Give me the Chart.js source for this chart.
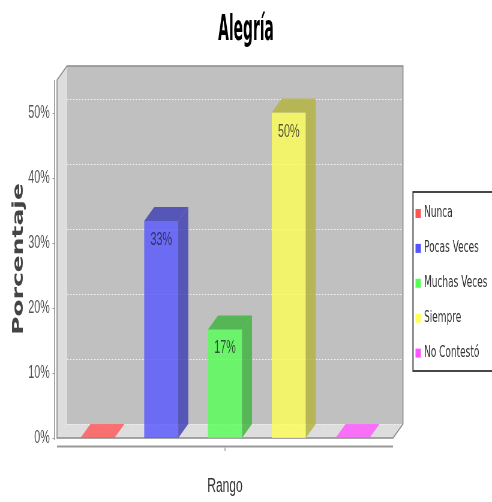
<!DOCTYPE html>
<html><head><meta charset="utf-8">
<script src="https://cdn.jsdelivr.net/npm/chart.js@4.4.1/dist/chart.umd.min.js"></script>
<style>html,body{margin:0;padding:0;background:#fff;overflow:hidden}canvas{display:block}</style>
</head><body>
<canvas id="c" width="820" height="502" style="width:492px;height:502px"></canvas>
<script>
const chartTitle = 'Alegría';
const xTitle = 'Rango';
const yTitle = 'Porcentaje';
const categories = [''];
const seriesNames = ['Nunca', 'Pocas Veces', 'Muchas Veces', 'Siempre', 'No Contestó'];
const seriesValues = [0, 33.33, 16.67, 50, 0];
const seriesColors = ['#FF5555', '#5555FF', '#55FF55', '#FFFF55', '#FF55FF'];
const yTicks = [0, 10, 20, 30, 40, 50];
const yMax = 55;

// canvas is drawn wide and shown horizontally compressed (like the reference)
const SX = 0.6;
const DX = 10 / SX, DY = -14;

function rgb(hex) { return [1,3,5].map(i => parseInt(hex.substr(i,2),16)); }
function rgba(hex, a, k) { const c = rgb(hex).map(v => Math.round(v * (k || 1))); return `rgba(${c[0]},${c[1]},${c[2]},${a})`; }
function poly(ctx, pts, fill) { ctx.beginPath(); pts.forEach((p,i)=> i ? ctx.lineTo(p[0],p[1]) : ctx.moveTo(p[0],p[1])); ctx.closePath(); ctx.fillStyle = fill; ctx.fill(); }

const threeD = {
  id: 'threeD',
  beforeDatasetsDraw(chart) {
    const {ctx, chartArea: a} = chart;
    const L=a.left, R=a.right, T=a.top, B=a.bottom;
    ctx.save();
    ctx.fillStyle = '#C0C0C0';
    ctx.fillRect(L+DX, T+DY, R-L, B-T);
    poly(ctx, [[L,T],[L+DX,T+DY],[L+DX,B+DY],[L,B]], '#DDDDDD');
    poly(ctx, [[L,B],[L+DX,B+DY],[R+DX,B+DY],[R,B]], '#DDDDDD');
    const ys = chart.scales.y;
    ctx.strokeStyle = '#F2F2F2'; ctx.lineWidth = 1; ctx.setLineDash([2.5, 2.5]);
    yTicks.forEach(v => {
      const py = Math.round(ys.getPixelForValue(v) + DY) + 0.5;
      ctx.beginPath(); ctx.moveTo(L+DX, py); ctx.lineTo(R+DX, py); ctx.stroke();
    });
    ctx.setLineDash([]);
    ctx.strokeStyle = '#8A8A8A'; ctx.lineWidth = 1.6;
    ctx.beginPath();
    ctx.moveTo(L, B); ctx.lineTo(L, T); ctx.lineTo(L+DX, T+DY); ctx.lineTo(R+DX, T+DY);
    ctx.lineTo(R+DX, B+DY); ctx.lineTo(R, B); ctx.closePath(); ctx.stroke();
    ctx.restore();
  },
  afterDatasetsDraw(chart) {
    const ctx = chart.ctx;
    ctx.save();
    chart.data.datasets.forEach((ds, i) => {
      const el = chart.getDatasetMeta(i).data[0];
      const {x, y, base, width} = el.getProps(['x','y','base','width'], true);
      const l = x - width/2, r = x + width/2;
      const v = seriesValues[i];
      if (v > 0) {
        poly(ctx, [[r,y],[r+DX,y+DY],[r+DX,base+DY],[r,base]], rgba(seriesColors[i], 0.8, 0.7));
        poly(ctx, [[l,y],[l+DX,y+DY],[r+DX,y+DY],[r,y]], rgba(seriesColors[i], 0.8, 0.7));
        ctx.fillStyle = 'rgba(30,30,40,0.75)';
        ctx.font = '18px "Liberation Sans", Arial, sans-serif';
        ctx.textAlign = 'center'; ctx.textBaseline = 'middle';
        ctx.fillText(Math.round(v) + '%', x, y + 19);
      } else {
        poly(ctx, [[l,y],[l+DX,y+DY],[r+DX,y+DY],[r,y]], rgba(seriesColors[i], 0.8));
      }
    });
    ctx.restore();
  },
  afterDraw(chart) {
    const {ctx, chartArea: a} = chart;
    const L=a.left, R=a.right, T=a.top, B=a.bottom;
    const ys = chart.scales.y, xs = chart.scales.x;
    ctx.save();
    // chart title (condensed)
    ctx.save();
    ctx.translate(chart.width / 2, 40);
    ctx.scale(0.66, 1);
    ctx.font = 'bold 35px "DejaVu Sans", sans-serif';
    ctx.fillStyle = '#000'; ctx.textAlign = 'center'; ctx.textBaseline = 'alphabetic';
    ctx.fillText(chartTitle, 0, 0);
    ctx.restore();
    // value axis line + tick marks
    const ax = L - 2.5/SX;
    ctx.strokeStyle = '#999'; ctx.lineWidth = 1.6;
    ctx.beginPath(); ctx.moveTo(ax, T); ctx.lineTo(ax, B + 2); ctx.stroke();
    ctx.lineWidth = 1;
    yTicks.forEach(v => {
      const py = Math.round(ys.getPixelForValue(v)) + 0.5;
      ctx.beginPath(); ctx.moveTo(ax - 2/SX, py); ctx.lineTo(ax, py); ctx.stroke();
    });
    // category axis line + tick
    ctx.strokeStyle = '#999'; ctx.lineWidth = 2.2;
    ctx.beginPath(); ctx.moveTo(L, B + 8.5); ctx.lineTo(R, B + 8.5); ctx.stroke();
    ctx.lineWidth = 1.5;
    const cx = xs.getPixelForValue(0);
    ctx.beginPath(); ctx.moveTo(cx, B + 9.5); ctx.lineTo(cx, B + 13); ctx.stroke();
    // legend
    const lx = 413/SX, ly = 192, lw = 200, lh = 179;
    ctx.fillStyle = '#fff'; ctx.fillRect(lx, ly, lw, lh);
    ctx.strokeStyle = '#333'; ctx.lineWidth = 1.8;
    ctx.strokeRect(lx, ly, lw, lh);
    ctx.font = '15px "DejaVu Sans", sans-serif';
    ctx.textBaseline = 'middle'; ctx.textAlign = 'left';
    seriesNames.forEach((n, i) => {
      const cy = 213.5 + i * 34.9;
      ctx.fillStyle = seriesColors[i];
      ctx.fillRect(415.5/SX, cy - 4.5, 9, 9);
      ctx.fillStyle = '#333';
      ctx.fillText(n, 424/SX, cy);
    });
    ctx.restore();
  }
};

const chart = new Chart(document.getElementById('c'), {
  type: 'bar',
  data: {
    labels: categories,
    datasets: seriesNames.map((n, i) => ({
      label: n,
      data: [seriesValues[i]],
      backgroundColor: rgba(seriesColors[i], 0.8),
      borderWidth: 0,
      categoryPercentage: 0.949,
      barPercentage: 0.533
    }))
  },
  options: {
    responsive: false,
    devicePixelRatio: 1,
    animation: false,
    layout: { padding: { top: 80, left: 0, right: 0, bottom: 0 } },
    plugins: {
      legend: { display: false },
      tooltip: { enabled: false },
      title: { display: false }
    },
    scales: {
      x: {
        type: 'category',
        grid: { display: false, drawTicks: false },
        border: { display: false },
        ticks: { display: false },
        title: { display: true, text: xTitle, color: '#333',
          font: { family: '"Liberation Sans", Arial, sans-serif', size: 20, lineHeight: 1.2 },
          padding: { top: 0, bottom: 4 } },
        afterFit(s) { s.height = 64; }
      },
      y: {
        min: 0, max: yMax,
        grid: { display: false, drawTicks: false },
        border: { display: false },
        afterBuildTicks(s) { s.ticks = yTicks.map(v => ({ value: v })); },
        ticks: { color: '#555', padding: 12,
          font: { family: '"Liberation Sans", Arial, sans-serif', size: 18 },
          callback: v => v + '%' },
        title: { display: true, text: yTitle, color: '#444',
          font: { family: '"DejaVu Sans", sans-serif', weight: 'bold', size: 25, lineHeight: 1.2 },
          padding: { top: 16, bottom: 0 } },
        afterFit(s) { s.width = 95; }
      },
      legendSpace: {
        type: 'linear', position: 'right', display: true,
        grid: { display: false, drawTicks: false },
        border: { display: false },
        ticks: { display: false },
        afterFit(s) { s.width = 165; }
      }
    }
  },
  plugins: [threeD]
});
chart.canvas.style.width = '492px';
chart.canvas.style.height = '502px';
</script>
</body></html>
